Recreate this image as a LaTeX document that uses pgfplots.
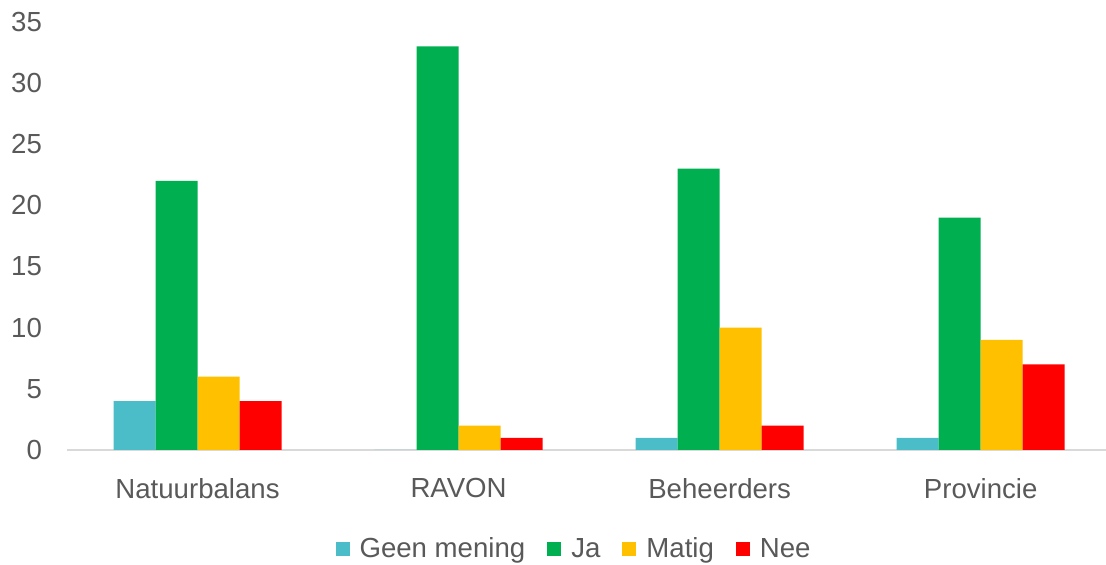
\documentclass[border=0pt]{standalone}
\usepackage{pgfplots}
\pgfplotsset{compat=1.18}
\usepackage{fontspec}
\setmainfont{Liberation Sans}
\definecolor{txt}{HTML}{595959}
\definecolor{cGeen}{HTML}{4BBDC8}
\definecolor{cJa}{HTML}{00AF50}
\definecolor{cMatig}{HTML}{FFC000}
\definecolor{cNee}{HTML}{FF0000}
\definecolor{axl}{HTML}{D9D9D9}
\begin{document}
\begin{tikzpicture}
\path[use as bounding box] (-33.5pt,-57.5pt) rectangle (519.5pt,225pt);
\begin{axis}[
  at={(0,0)}, anchor=south west,
  scale only axis, width=519.5pt, height=214pt,
  ybar=0pt, bar width=21pt,
  xmin=-0.5, xmax=3.48, ymin=0, ymax=35,
  xtick={0,1,2,3},
  xticklabels={Natuurbalans,RAVON,Beheerders,Provincie},
  ytick={0,5,...,35},
  axis y line*=left, axis x line*=bottom,
  y axis line style={draw=none},
  x axis line style={draw=axl, line width=1.2pt, -},
  major tick length=0pt,
  tick style={draw=none},
  /pgf/number format/assume math mode=true,
  tick label style={font=\fontsize{13.8}{16}\selectfont, text=txt},
  yticklabel style={xshift=-9pt},
  xticklabel style={yshift=-10.5pt},
  clip=true,
  legend style={at={(0.489,-0.232)}, anchor=center, draw=none,
    font=\fontsize{13.8}{16}\selectfont, text=txt, column sep=3pt,
    /tikz/every even column/.append style={column sep=9pt}},
  legend columns=-1,
  legend image code/.code={\fill[#1] (0pt,-3.5pt) rectangle (7pt,3.5pt);},
]
\addplot[fill=cGeen, draw=none] coordinates {(0,4) (1,0) (2,1) (3,1)};
\addplot[fill=cJa, draw=none] coordinates {(0,22) (1,33) (2,23) (3,19)};
\addplot[fill=cMatig, draw=none] coordinates {(0,6) (1,2) (2,10) (3,9)};
\addplot[fill=cNee, draw=none] coordinates {(0,4) (1,1) (2,2) (3,7)};
\legend{Geen mening,Ja,Matig,Nee}
\end{axis}
\end{tikzpicture}
\end{document}
